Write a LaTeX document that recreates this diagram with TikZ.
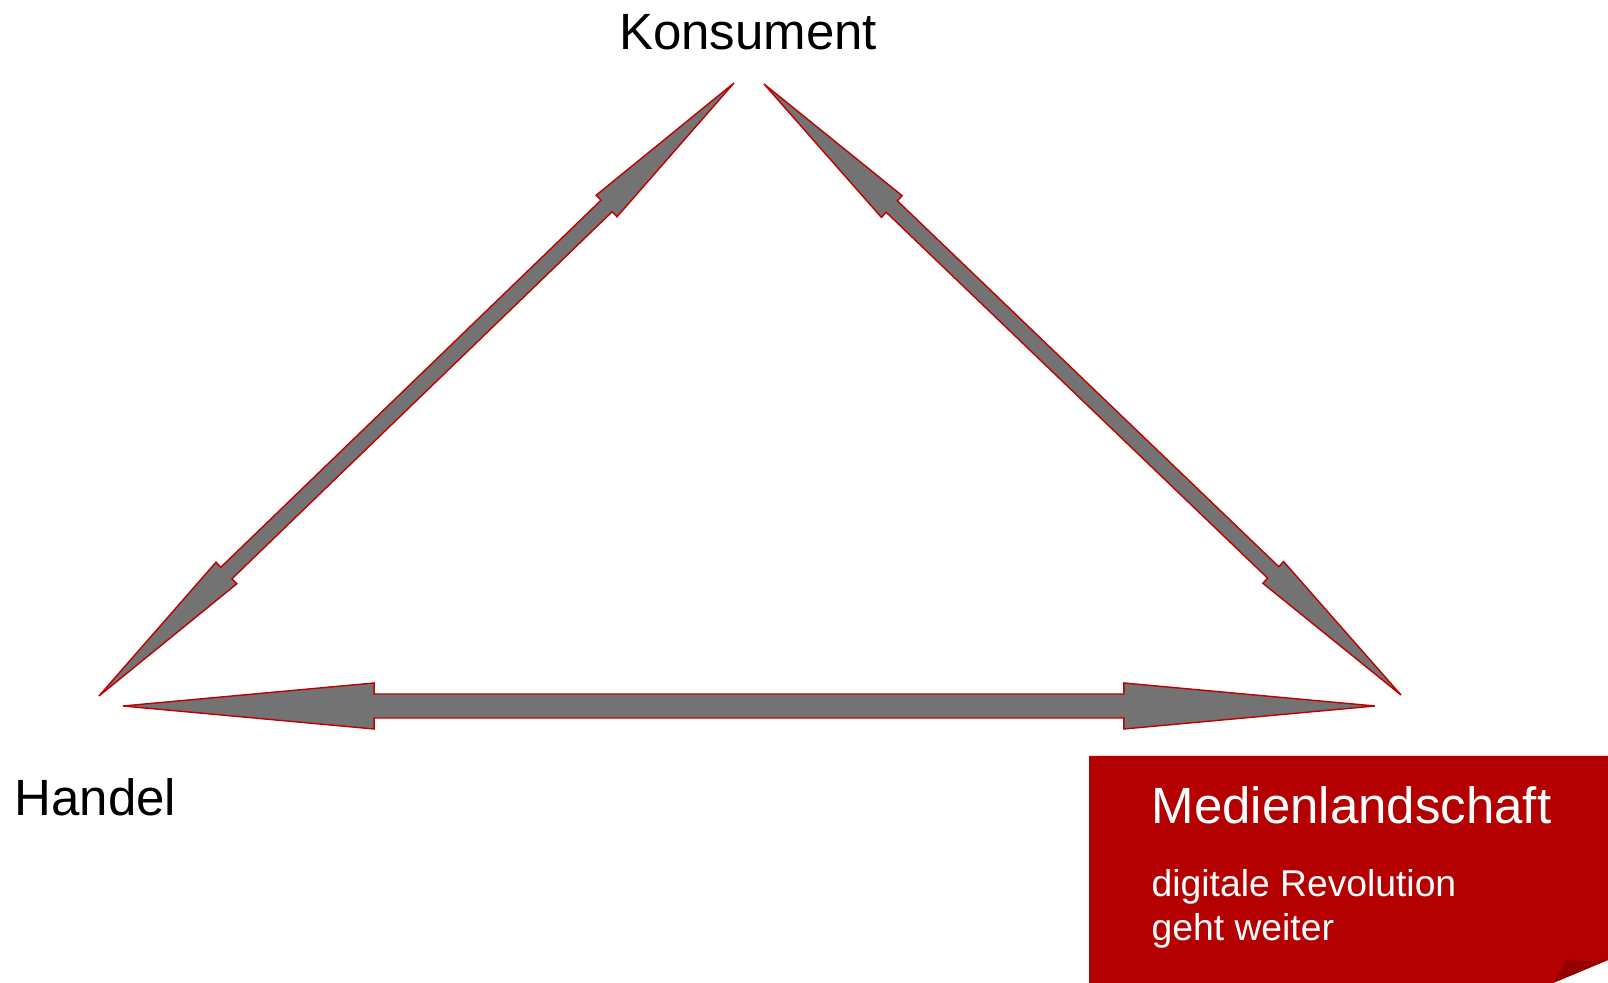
\documentclass[tikz,border=0pt]{standalone}
\usepackage{fontspec}
\setmainfont{Liberation Sans}
\usetikzlibrary{calc}

\definecolor{arrowgray}{RGB}{115,115,115}
\definecolor{edgered}{RGB}{192,0,0}
\definecolor{boxred}{RGB}{180,0,0}
\definecolor{folddark}{RGB}{148,0,0}

% double headed block arrow between two named points
% #1 from, #2 to, #3 head length, #4 head half width, #5 shaft half width
\newcommand{\blockarrow}[5]{%
	\coordinate (ha) at ($(#1)!#3!(#2)$);
	\coordinate (hb) at ($(#2)!#3!(#1)$);
	\filldraw[arrowbody] (#1)
		-- ($(ha)!#4!90:(#2)$) -- ($(ha)!#5!90:(#2)$)
		-- ($(hb)!#5!-90:(#1)$) -- ($(hb)!#4!-90:(#1)$)
		-- (#2)
		-- ($(hb)!#4!90:(#1)$) -- ($(hb)!#5!90:(#1)$)
		-- ($(ha)!#5!-90:(#2)$) -- ($(ha)!#4!-90:(#2)$)
		-- cycle;
}

\begin{document}
\begin{tikzpicture}[
		x=0.01cm, y=-0.01cm,
		% Styling for the grey block arrows
		arrowbody/.style={fill=arrowgray, draw=edgered, line width=0.4pt, line join=miter},
		% Typography
		cornerlabel/.style={inner sep=0pt, font=\fontsize{14.5pt}{17pt}\selectfont},
		boxtitle/.style={inner sep=0pt, text=white, font=\fontsize{14.5pt}{17pt}\selectfont},
		boxtext/.style={inner sep=0pt, text=white, font=\fontsize{10.6pt}{12.5pt}\selectfont}
		]
		\useasboundingbox (0,0) rectangle (1608,983);
		
		% =========================================================================
		% CORNER LABELS
		% =========================================================================
		\node[cornerlabel, anchor=base] (konsument) at (748,50) {Konsument};
		\node[cornerlabel, anchor=base west] (handel) at (14,816) {Handel};
		
		% =========================================================================
		% ARROW END POINTS
		% =========================================================================
		\coordinate (konsL) at (734,83);
		\coordinate (konsR) at (764,84);
		\coordinate (handT) at (99,696);
		\coordinate (handR) at (123,706);
		\coordinate (medT) at (1401,695);
		\coordinate (medL) at (1375,706);
		
		% =========================================================================
		% BLOCK ARROWS
		% =========================================================================
		\blockarrow{konsL}{handT}{1.77cm}{0.15cm}{0.08cm}
		\blockarrow{konsR}{medT}{1.77cm}{0.15cm}{0.08cm}
		\blockarrow{handR}{medL}{2.51cm}{0.23cm}{0.12cm}
		
		% =========================================================================
		% RED BOX WITH CURLED CORNER (Bottom-Right)
		% =========================================================================
		\fill[boxred] (1089,756) -- (1608,756) -- (1608,960) -- (1553,983) -- (1089,983) -- cycle;
		\fill[folddark] (1553,983) -- (1568,959) .. controls (1580,962) and (1594,962) .. (1608,959)
			-- (1608,960) -- cycle;
		
		\node[boxtitle, anchor=base west] (medien) at (1151,824) {Medienlandschaft};
		\node[boxtext, anchor=base west] (revolution) at (1151,897) {digitale Revolution};
		\node[boxtext, anchor=base west] (weiter) at (1151,941) {geht weiter};
		
	\end{tikzpicture}
\end{document}
